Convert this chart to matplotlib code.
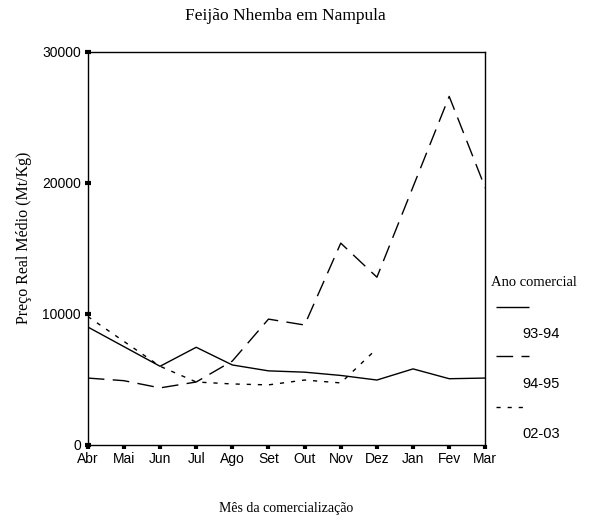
import numpy as np
import matplotlib.pyplot as plt
from matplotlib.lines import Line2D

months = ["Abr", "Mai", "Jun", "Jul", "Ago", "Set", "Out", "Nov", "Dez", "Jan", "Fev", "Mar"]
price_9394 = [9000, 7500, 6000, 7450, 6100, 5650, 5550, 5300, 4950, 5800, 5050, 5100]
price_9495 = [5100, 4900, 4350, 4800, 6400, 9600, 9150, 15400, 12800, 19700, 26600, 19600]
price_0203 = [9800, 7900, 6000, 4800, 4650, 4580, 4950, 4730, 7350]
years = ["93-94", "94-95", "02-03"]

serif = "Liberation Serif"
sans = "Liberation Sans"

fig = plt.figure(figsize=(5.89, 5.24), dpi=100)
ax = fig.add_axes([0.149, 0.151, 0.675, 0.750])

x = np.arange(len(months))
styles = [(0, ()), (0, (12, 6)), (0, (3, 5))]
ax.plot(x, price_9394, color="black", lw=1.0, linestyle=styles[0])
ax.plot(x, price_9495, color="black", lw=1.0, linestyle=styles[1])
ax.plot(x[:len(price_0203)], price_0203, color="black", lw=1.0, linestyle=styles[2])

ax.set_xlim(0, len(months) - 1)
ax.set_ylim(0, 30000)
ax.set_xticks(x)
ax.set_xticklabels(months, fontfamily=sans, fontsize=10)
ax.set_yticks([0, 10000, 20000, 30000])
ax.set_yticklabels(["0", "10000", "20000", "30000"], fontfamily=sans, fontsize=10)
ax.tick_params(axis="x", direction="out", length=3, width=3, pad=2)
ax.tick_params(axis="y", direction="inout", length=4, width=3, pad=3)
for s in ax.spines.values():
    s.set_linewidth(1.0)

fig.text(0.484, 0.969, "Feijão Nhemba em Nampula", ha="center", va="center",
         fontfamily=serif, fontsize=12.5)
fig.text(0.485, 0.030, "Mês da comercialização", ha="center", va="center",
         fontfamily=serif, fontsize=10)
fig.text(0.040, 0.546, "Preço Real Médio (Mt/Kg)", ha="center", va="center",
         rotation=90, fontfamily=serif, fontsize=11.5)

# legend drawn by hand: handle line above its label
fig.text(0.833, 0.460, "Ano comercial", ha="left", va="center",
         fontfamily=serif, fontsize=10.5)
handle_y = [0.414, 0.321, 0.224]
label_y = [0.362, 0.268, 0.172]
for i, yr in enumerate(years):
    fig.add_artist(Line2D([0.842, 0.898], [handle_y[i], handle_y[i]],
                          color="black", lw=1.0, linestyle=styles[i],
                          transform=fig.transFigure))
    fig.text(0.887, label_y[i], yr, ha="left", va="center",
             fontfamily=sans, fontsize=10.5)

fig.savefig("out.png", dpi=100)
